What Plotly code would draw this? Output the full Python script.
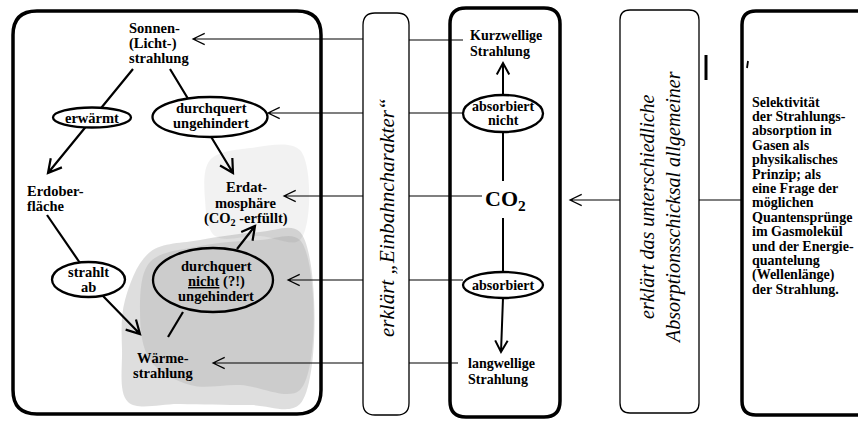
import math
import plotly.graph_objects as go

W, H = 858, 423

# ---------------- text content (data) ----------------
concept_labels = ["Sonnen-", "(Licht-)", "strahlung"]
surface_labels = ["Erdober-", "fläche"]
atmosphere_labels = ["Erdat-", "mosphäre", "(CO<sub>2</sub> -erfüllt)"]
heat_labels = ["Wärme-", "strahlung"]
rel_warm = ["erwärmt"]
rel_pass = ["durchquert", "ungehindert"]
rel_emit = ["strahlt", "ab"]
rel_block = ["durchquert", "<u>nicht</u> (?!)", "ungehindert"]
short_wave = ["Kurzwellige", "Strahlung"]
long_wave = ["langwellige", "Strahlung"]
co2_label = ["CO<sub>2</sub>"]
abs_not = ["absorbiert", "nicht"]
abs_yes = ["absorbiert"]
explain_one = "erklärt „Einbahncharakter“"
explain_two = "erklärt das unterschiedliche<br>Absorptionsschicksal allgemeiner"
principle_lines = ["Selektivität", "der Strahlungs-", "absorption in", "Gasen als",
                   "physikalisches", "Prinzip; als", "eine Frage der", "möglichen",
                   "Quantensprünge", "im Gasmolekül", "und der Energie-", "quantelung",
                   "(Wellenlänge)", "der Strahlung."]

# ---------------- layout geometry ----------------
SERIF = "Liberation Serif"
shapes = []
annotations = []


def rrect(x0, y0, x1, y1, r):
    return (f"M{x0+r},{y0} L{x1-r},{y0} Q{x1},{y0} {x1},{y0+r} L{x1},{y1-r} "
            f"Q{x1},{y1} {x1-r},{y1} L{x0+r},{y1} Q{x0},{y1} {x0},{y1-r} "
            f"L{x0},{y0+r} Q{x0},{y0} {x0+r},{y0} Z")


def box(x0, y0, x1, y1, r, lw, fill="rgba(0,0,0,0)"):
    shapes.append(dict(type="path", path=rrect(x0, y0, x1, y1, r), xref="x", yref="y",
                       line=dict(color="black", width=lw), fillcolor=fill, layer="above"))


def seg(x0, y0, x1, y1, lw=1.2):
    shapes.append(dict(type="line", x0=x0, y0=y0, x1=x1, y1=y1, xref="x", yref="y",
                       line=dict(color="black", width=lw), layer="above"))


def arrow(x0, y0, x1, y1, lw=2, head=13, spread=0.5):
    a = math.atan2(y1 - y0, x1 - x0)
    hx1 = x1 - head * math.cos(a - spread)
    hy1 = y1 - head * math.sin(a - spread)
    hx2 = x1 - head * math.cos(a + spread)
    hy2 = y1 - head * math.sin(a + spread)
    p = f"M{x0},{y0} L{x1},{y1} M{hx1:.2f},{hy1:.2f} L{x1},{y1} L{hx2:.2f},{hy2:.2f}"
    shapes.append(dict(type="path", path=p, xref="x", yref="y",
                       line=dict(color="black", width=lw), layer="above"))


def ellipse(cx, cy, rx, ry, lw=2.3, fill="white"):
    shapes.append(dict(type="circle", x0=cx - rx, x1=cx + rx, y0=cy - ry, y1=cy + ry,
                       xref="x", yref="y", line=dict(color="black", width=lw),
                       fillcolor=fill, layer="above"))


def text(lines, x, y0, pitch, size=14.5, anchor="center", bold=True):
    for i, t in enumerate(lines):
        annotations.append(dict(x=x, y=y0 + i * pitch, xref="x", yref="y",
                                text=(f"<b>{t}</b>" if bold else t), showarrow=False,
                                xanchor=anchor, yanchor="middle",
                                font=dict(family=SERIF, size=size, color="black")))


def shade(xs, ys, alpha):
    fig.add_trace(go.Scatter(x=xs, y=ys, fill="toself", mode="none",
                             fillcolor=f"rgba(0,0,0,{alpha})", line_shape="spline",
                             hoverinfo="skip", showlegend=False))


fig = go.Figure()

# shading (scanned stipple texture) behind the lower diagram
shade([210, 250, 300, 300, 260, 215, 205, 210], [160, 148, 150, 240, 236, 236, 200, 160], 0.05)
shade([125, 150, 200, 260, 300, 300, 250, 180, 128, 122, 125],
      [300, 252, 240, 232, 232, 404, 405, 404, 402, 350, 300], 0.13)
shade([150, 200, 260, 300, 300, 240, 190, 150, 140, 150],
      [262, 246, 240, 240, 390, 385, 385, 360, 310, 262], 0.08)

# horizontal connector lines (drawn before the white explanation boxes)
arrow(363, 39, 193, 39, lw=1.2, head=13, spread=0.45)
seg(409, 40, 463, 40)
arrow(363, 113, 268, 113, lw=1.2, head=13, spread=0.45)
seg(409, 113, 463, 113)
arrow(363, 196, 284, 196, lw=1.2, head=13, spread=0.45)
seg(409, 196, 482, 196)
arrow(363, 280, 288, 280, lw=1.2, head=13, spread=0.45)
seg(409, 280, 463, 280)
arrow(363, 363, 213, 363, lw=1.2, head=13, spread=0.45)
seg(409, 363, 458, 363)
arrow(620, 200, 570, 200, lw=1.2, head=13, spread=0.45)
seg(699, 200, 742, 200)

# boxes
box(13, 11, 321, 414, 24, 3.5)
box(363, 13, 409, 415, 12, 1.3, fill="white")
box(450, 8, 560, 417, 16, 3.5)
box(620, 10, 699, 413, 10, 1.3, fill="white")
box(742, 11, 890, 415, 14, 3.5)

# left diagram relations
arrow(133, 69, 48, 173, lw=2.2, head=15, spread=0.5)
arrow(170, 69, 233, 173, lw=2.2, head=15, spread=0.5)
seg(47, 215, 80, 263, lw=2.2)
arrow(103, 296, 140, 334, lw=2.2, head=15, spread=0.5)
seg(168, 337, 183, 312, lw=2.2)
arrow(237, 249, 255, 226, lw=2.2, head=15, spread=0.5)

ellipse(92, 117.5, 39, 10)
ellipse(210, 117, 57.5, 20)
ellipse(88.5, 279.5, 36.5, 17.5)
ellipse(213, 280, 60, 32, fill="rgba(0,0,0,0)")

# CO2 box relations
arrow(503, 95, 503, 63, lw=2, head=13, spread=0.5)
seg(503, 132, 503, 181, lw=2)
seg(503, 218, 503, 272, lw=2)
arrow(503, 298, 501, 352, lw=2, head=13, spread=0.5)
ellipse(503, 113.5, 40, 18.5)
ellipse(503, 285, 40, 13)

# scan marks
seg(706, 55, 706, 80, lw=3)
seg(748, 61, 747, 68, lw=1.8)

# texts - left diagram
text(concept_labels, 127, 28, 15, anchor="left")
text(rel_warm, 92, 117.5, 15)
text(rel_pass, 211, 108, 15)
text(surface_labels, 25, 191, 14.5, anchor="left")
text(atmosphere_labels, 246, 187, 16)
text(rel_emit, 88.5, 272, 14.5)
text(rel_block, 216, 266, 15)
text(heat_labels, 163, 358, 15)

# texts - CO2 box
text(short_wave, 468, 35, 16, size=14, anchor="left")
text(abs_not, 503, 106, 14, size=14)
text(co2_label, 505, 200, 0, size=22)
text(abs_yes, 503, 285, 0, size=14)
text(long_wave, 466, 363, 16, size=14, anchor="left")

# vertical explanations
annotations.append(dict(x=387, y=218, xref="x", yref="y", text=f"<i>{explain_one}</i>",
                        showarrow=False, textangle=-90,
                        font=dict(family=SERIF, size=21, color="black"),
                        xanchor="center", yanchor="middle"))
annotations.append(dict(x=660, y=208, xref="x", yref="y", text=f"<i>{explain_two}</i>",
                        showarrow=False, textangle=-90,
                        font=dict(family=SERIF, size=20, color="black"),
                        xanchor="center", yanchor="middle"))

# principle text
text(principle_lines, 750, 102, 14.4, size=14, anchor="left")

fig.update_layout(
    width=W, height=H, margin=dict(l=0, r=0, t=0, b=0, pad=0),
    paper_bgcolor="white", plot_bgcolor="white",
    xaxis=dict(range=[0, W], visible=False, fixedrange=True),
    yaxis=dict(range=[H, 0], visible=False, fixedrange=True),
    shapes=shapes, annotations=annotations, showlegend=False,
)

fig.write_html("out.html", config={"displayModeBar": False},
               post_script="document.body.style.margin='0';")
